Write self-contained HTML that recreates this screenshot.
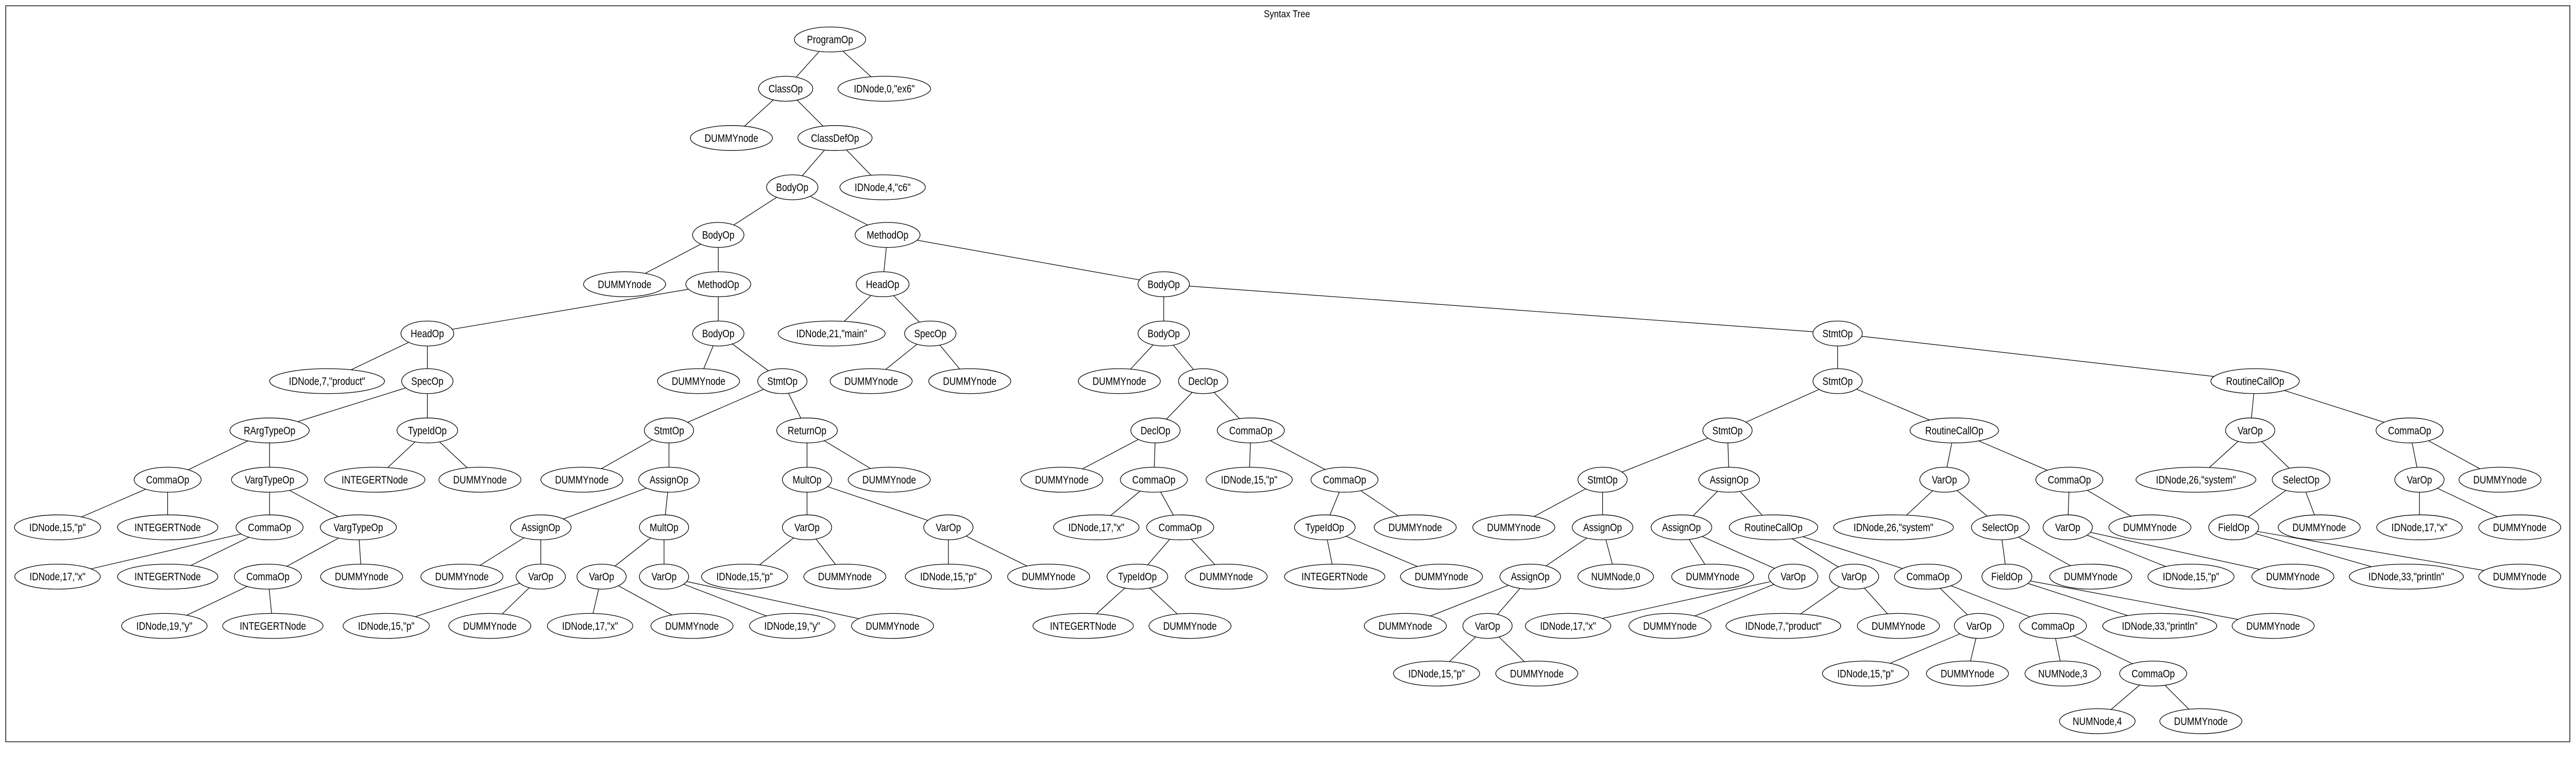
<!DOCTYPE html>
<html><head><meta charset="utf-8">
<style>
html,body{margin:0;padding:0;background:#fff;overflow:hidden;}
svg{display:block;}
text{font-family:"Liberation Sans",sans-serif;}
</style></head>
<body>
<svg id="s" width="5079" height="1476" viewBox="0 0 1592 462.6" xmlns="http://www.w3.org/2000/svg">
<rect x="3.5" y="3.5" width="1560" height="448" fill="#fff" stroke="#444" stroke-width="0.6"/>
<text x="783" y="10.5" font-size="6.2" text-anchor="middle" transform="translate(783,0) scale(0.85,1) translate(-783,0)">Syntax Tree</text>
<g id="E" stroke="#000" stroke-width="0.38"></g>
<g id="N"></g>
</svg>
<script>
var R=[24,54,84,114,143,173,203,232,262,292,321,351,381,410,439];
var D=[
[1,'ProgramOp',505,0,0],[2,'ClassOp',478,1,1],[3,'IDNode,0,"ex6"',538,1,1],
[4,'DUMMYnode',445,2,2],[5,'ClassDefOp',508,2,2],[6,'BodyOp',482,3,5],[7,'IDNode,4,"c6"',537,3,5],
[8,'BodyOp',437,4,6],[9,'MethodOp',540,4,6],[10,'DUMMYnode',380,5,8],[11,'MethodOp',437,5,8],
[12,'HeadOp',537,5,9],[13,'BodyOp',708,5,9],[14,'HeadOp',260,6,11],[15,'BodyOp',437,6,11],
[16,'IDNode,21,"main"',506,6,12],[17,'SpecOp',566,6,12],[18,'BodyOp',708,6,13],[19,'StmtOp',1118,6,13],
[20,'IDNode,7,"product"',199,7,14],[21,'SpecOp',260,7,14],[22,'DUMMYnode',425,7,15],[23,'StmtOp',476,7,15],
[24,'DUMMYnode',530,7,17],[25,'DUMMYnode',590,7,17],[26,'DUMMYnode',681,7,18],[27,'DeclOp',732,7,18],
[28,'StmtOp',1118,7,19],[29,'RoutineCallOp',1372,7,19],
[30,'RArgTypeOp',164,8,21],[31,'TypeIdOp',260,8,21],[32,'StmtOp',407,8,23],[33,'ReturnOp',491,8,23],
[34,'DeclOp',703,8,27],[35,'CommaOp',761,8,27],[36,'StmtOp',1051,8,28],[37,'RoutineCallOp',1189,8,28],
[38,'VarOp',1369,8,29],[39,'CommaOp',1466,8,29],
[40,'CommaOp',102,9,30],[41,'VargTypeOp',164,9,30],[42,'INTEGERTNode',228,9,31],[43,'DUMMYnode',292,9,31],
[44,'DUMMYnode',354,9,32],[45,'AssignOp',407,9,32],[46,'MultOp',491,9,33],[47,'DUMMYnode',541,9,33],
[48,'DUMMYnode',646,9,34],[49,'CommaOp',702,9,34],[50,'IDNode,15,"p"',760,9,35],[51,'CommaOp',818,9,35],
[52,'StmtOp',975,9,36],[53,'AssignOp',1052,9,36],[54,'VarOp',1183,9,37],[55,'CommaOp',1259,9,37],
[56,'IDNode,26,"system"',1336,9,38],[57,'SelectOp',1400,9,38],[58,'VarOp',1472,9,39],[59,'DUMMYnode',1521,9,39],
[60,'IDNode,15,"p"',35,10,40],[61,'INTEGERTNode',102,10,40],[62,'CommaOp',164,10,41],[63,'VargTypeOp',218,10,41],
[64,'AssignOp',329,10,45],[65,'MultOp',404,10,45],[66,'VarOp',491,10,46],[67,'VarOp',577,10,46],
[68,'IDNode,17,"x"',667,10,49],[69,'CommaOp',718,10,49],[70,'TypeIdOp',806,10,51],[71,'DUMMYnode',861,10,51],
[72,'DUMMYnode',921,10,52],[73,'AssignOp',975,10,52],[74,'AssignOp',1023,10,53],[75,'RoutineCallOp',1079,10,53],
[76,'IDNode,26,"system"',1152,10,54],[77,'SelectOp',1217,10,54],[78,'VarOp',1258,10,55],[79,'DUMMYnode',1308,10,55],
[80,'FieldOp',1359,10,57],[81,'DUMMYnode',1411,10,57],[82,'IDNode,17,"x"',1472,10,58],[83,'DUMMYnode',1533,10,58],
[84,'IDNode,17,"x"',35,11,62],[85,'INTEGERTNode',102,11,62],[86,'CommaOp',163,11,63],[87,'DUMMYnode',220,11,63],
[88,'DUMMYnode',281,11,64],[89,'VarOp',329,11,64],[90,'VarOp',366,11,65],[91,'VarOp',404,11,65],
[92,'IDNode,15,"p"',453,11,66],[93,'DUMMYnode',514,11,66],[94,'IDNode,15,"p"',577,11,67],[95,'DUMMYnode',638,11,67],
[96,'TypeIdOp',692,11,69],[97,'DUMMYnode',746,11,69],[98,'INTEGERTNode',812,11,70],[99,'DUMMYnode',877,11,70],
[100,'AssignOp',931,11,73],[101,'NUMNode,0',983,11,73],[102,'DUMMYnode',1042,11,74],[103,'VarOp',1091,11,74],
[104,'VarOp',1128,11,75],[105,'CommaOp',1173,11,75],[106,'FieldOp',1221,11,77],[107,'DUMMYnode',1272,11,77],
[108,'IDNode,15,"p"',1333,11,78],[109,'DUMMYnode',1395,11,78],[110,'IDNode,33,"println"',1464,11,80],[111,'DUMMYnode',1533,11,80],
[112,'IDNode,19,"y"',100,12,86],[113,'INTEGERTNode',166,12,86],[114,'IDNode,15,"p"',235,12,89],[115,'DUMMYnode',298,12,89],
[116,'IDNode,17,"x"',359,12,90],[117,'DUMMYnode',421,12,90],[118,'IDNode,19,"y"',482,12,91],[119,'DUMMYnode',543,12,91],
[120,'INTEGERTNode',659,12,96],[121,'DUMMYnode',724,12,96],[122,'DUMMYnode',855,12,100],[123,'VarOp',905,12,100],
[124,'IDNode,17,"x"',954,12,103],[125,'DUMMYnode',1016,12,103],[126,'IDNode,7,"product"',1085,12,104],[127,'DUMMYnode',1155,12,104],
[128,'VarOp',1204,12,105],[129,'CommaOp',1249,12,105],[130,'IDNode,33,"println"',1314,12,106],[131,'DUMMYnode',1383,12,106],
[132,'IDNode,15,"p"',874,13,123],[133,'DUMMYnode',935,13,123],[134,'IDNode,15,"p"',1135,13,128],[135,'DUMMYnode',1197,13,128],
[136,'NUMNode,3',1255,13,129],[137,'CommaOp',1310,13,129],[138,'NUMNode,4',1276,14,137],[139,'DUMMYnode',1339,14,137]
];
var NS="http://www.w3.org/2000/svg",byId={},E=document.getElementById('E'),N=document.getElementById('N');
D.forEach(function(d){byId[d[0]]=d;});
function el(t,a,p){var e=document.createElementNS(NS,t);for(var k in a)e.setAttribute(k,a[k]);p.appendChild(e);return e;}
D.forEach(function(d){if(d[4]){var p=byId[d[4]];el('line',{x1:p[2],y1:R[p[3]],x2:d[2],y2:R[d[3]]},E);}});
D.forEach(function(d){
 var x=d[2],y=R[d[3]];
 var g=el('g',{},N);
 var e=el('ellipse',{cx:x,cy:y,rx:20,ry:7.6,fill:'#fff',stroke:'#000','stroke-width':0.4},g);
 var t=el('text',{x:x,y:y+2.3,'font-size':6.8,'text-anchor':'middle',transform:'translate('+x+',0) scale(0.8,1) translate('+(-x)+',0)'},g);
 t.textContent=d[1];
 var w;try{w=t.getComputedTextLength()*0.8;}catch(err){w=d[1].length*3;}
 if(!w)w=d[1].length*3;
 e.setAttribute('rx',Math.max(w*0.72+1.5,15));
});
</script>
</body></html>
